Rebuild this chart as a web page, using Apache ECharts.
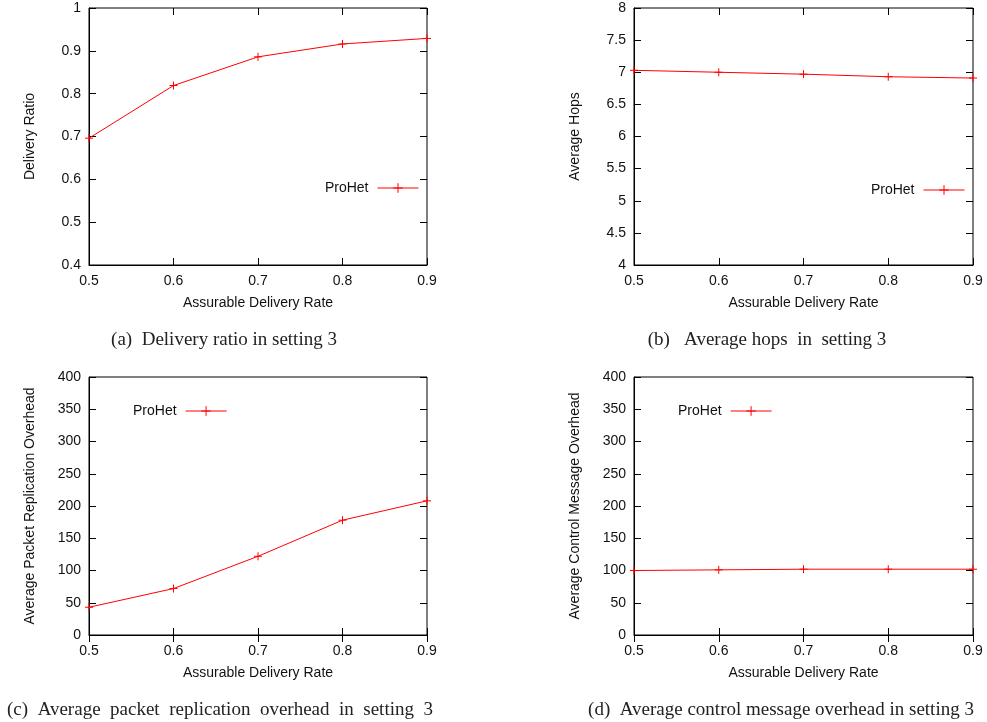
<!DOCTYPE html>
<html>
<head>
<meta charset="utf-8">
<script src="https://cdn.jsdelivr.net/npm/echarts@6/dist/echarts.min.js"></script>
<style>
  html, body { margin: 0; padding: 0; background: #fff; }
  #chart { width: 987px; height: 722px; }
</style>
</head>
<body>
<div id="chart"></div>
<script>
  const rates = [0.5, 0.6, 0.7, 0.8, 0.9];
  const deliveryRatio = [0.696, 0.819, 0.886, 0.916, 0.929];
  const avgHops = [7.03, 7.0, 6.97, 6.93, 6.91];
  const replicationOverhead = [43, 72, 122, 178, 208];
  const controlOverhead = [100, 101, 102, 102, 102];

  const captions = [
    "(a)  Delivery ratio in setting 3",
    "(b)   Average hops  in  setting 3",
    "(c)  Average  packet  replication  overhead  in  setting  3",
    "(d)  Average control message overhead in setting 3",
  ];
  const yNames = [
    "Delivery Ratio",
    "Average Hops",
    "Average Packet Replication Overhead",
    "Average Control Message Overhead",
  ];
  const yRanges = [
    [0.4, 1, 0.1],
    [4, 8, 0.5],
    [0, 400, 50],
    [0, 400, 50],
  ];
  const seriesData = [deliveryRatio, avgHops, replicationOverhead, controlOverhead];

  var dom = document.getElementById("chart");
  var myChart = echarts.init(dom, null, { renderer: "canvas" });

  const font = "'Liberation Sans', Arial, sans-serif";
  const grids = [
    { left: 89, top: 8, width: 338, height: 257 },
    { left: 634, top: 8, width: 339, height: 257 },
    { left: 89, top: 377, width: 338, height: 258 },
    { left: 634, top: 377, width: 339, height: 258 },
  ];
  const plus = "path://M0,5L10,5M5,0L5,10";

  const xAxis = [];
  const yAxis = [];
  const series = [];
  const legend = [];
  const title = [];

  grids.forEach((g, i) => {
    g.show = true;
    g.borderColor = "#000";
    g.borderWidth = 1;
    g.backgroundColor = "#fff";

    xAxis.push({
      type: "value", gridIndex: i, min: 0.5, max: 0.9, interval: 0.1,
      name: "Assurable Delivery Rate", nameLocation: "middle", nameGap: 31,
      nameTextStyle: { fontFamily: font, fontSize: 14, color: "#111" },
      axisLine: { lineStyle: { color: "#000" } },
      axisTick: { inside: true, length: 7, lineStyle: { color: "#000" } },
      axisLabel: { fontFamily: font, fontSize: 14, color: "#111", margin: 9,
        formatter: v => v.toFixed(1) },
      splitLine: { show: false },
    });
    xAxis.push({
      type: "value", gridIndex: i, min: 0.5, max: 0.9, interval: 0.1, position: "top",
      axisLine: { show: false },
      axisTick: { inside: true, length: 7, lineStyle: { color: "#000" } },
      axisLabel: { show: false }, splitLine: { show: false },
    });
    const r = yRanges[i];
    yAxis.push({
      type: "value", gridIndex: i, min: r[0], max: r[1], interval: r[2],
      name: yNames[i], nameLocation: "middle", nameGap: 52,
      nameTextStyle: { fontFamily: font, fontSize: 14, color: "#111" },
      axisLine: { show: true, lineStyle: { color: "#000" } },
      axisTick: { show: true, inside: true, length: 7, lineStyle: { color: "#000" } },
      axisLabel: { fontFamily: font, fontSize: 14, color: "#111", margin: 8 },
      splitLine: { show: false },
    });
    yAxis.push({
      type: "value", gridIndex: i, min: r[0], max: r[1], interval: r[2], position: "right",
      axisLine: { show: false },
      axisTick: { show: true, inside: true, length: 7, lineStyle: { color: "#000" } },
      axisLabel: { show: false }, splitLine: { show: false },
    });

    series.push({
      name: "ProHet", type: "line",
      xAxisIndex: i * 2, yAxisIndex: i * 2,
      data: rates.map((x, k) => [x, seriesData[i][k]]),
      symbol: plus, symbolSize: 8,
      lineStyle: { color: "#ff0000", width: 1 },
      itemStyle: { color: "#ff0000", borderColor: "#ff0000", borderWidth: 1 },
      clip: false,
      animation: false,
    });
  });

  // legend box per panel
  const legendPos = [
    { right: 563, top: 176 },
    { right: 17, top: 178 },
    { left: 128, top: 399 },
    { left: 673, top: 399 },
  ];
  legendPos.forEach(p => {
    legend.push(Object.assign({
      data: ["ProHet"], align: "right", itemWidth: 41, itemHeight: 12, itemGap: 9,
      selectedMode: false,
      itemStyle: { borderWidth: 1 },
      lineStyle: { width: 1 },
      textStyle: { fontFamily: font, fontSize: 14, color: "#111", padding: [0, 4, 0, 0] },
    }, p));
  });

  const capPos = [
    { left: 219, top: 326 },
    { left: 762, top: 326 },
    { left: 215, top: 696 },
    { left: 776, top: 696 },
  ];
  capPos.forEach((p, i) => {
    title.push({
      text: captions[i], left: p.left, top: p.top, textAlign: "center",
      textStyle: { fontFamily: "'Liberation Serif', 'Times New Roman', serif",
        fontSize: 19, fontWeight: "normal", color: "#222" },
    });
  });

  var option = {
    animation: false,
    backgroundColor: "#fff",
    title, legend, grid: grids, xAxis, yAxis, series,
  };

  if (option && typeof option === "object") {
    myChart.setOption(option);
  }
  window.addEventListener("resize", myChart.resize);
</script>
</body>
</html>
